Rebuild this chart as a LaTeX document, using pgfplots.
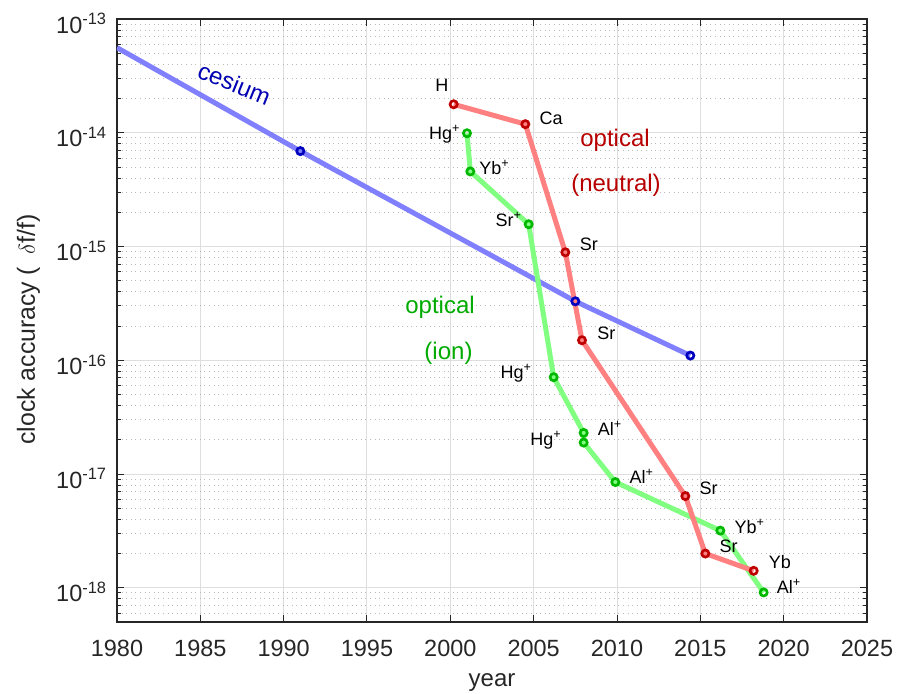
\documentclass[border=0pt]{standalone}
\usepackage{fontspec}
\setmainfont{Liberation Sans}
\usepackage{pgfplots}
\pgfplotsset{compat=1.18}

\definecolor{csline}{rgb}{0.5,0.5,1}
\definecolor{csmark}{rgb}{0,0,0.75}
\definecolor{csText}{rgb}{0,0,0.7}
\definecolor{neuline}{rgb}{1,0.5,0.5}
\definecolor{neumark}{rgb}{0.75,0,0}
\definecolor{neuText}{rgb}{0.72,0,0}
\definecolor{ionline}{rgb}{0.5,1,0.5}
\definecolor{ionmark}{rgb}{0,0.72,0}
\definecolor{ionText}{rgb}{0,0.67,0}
\definecolor{axcol}{rgb}{0.15,0.15,0.15}
\definecolor{majgrid}{RGB}{222,222,222}
\definecolor{mingrid}{RGB}{185,185,185}

% cesium trend (line) and cesium clocks (marks)
\pgfplotstableread{
year acc
1980   5.6e-14
1991   6.9e-15
2007.5 3.3e-16
2014.4 1.1e-16
}\cesiumline
\pgfplotstableread{
year acc
1991   6.9e-15
2007.5 3.3e-16
2014.4 1.1e-16
}\cesium
% neutral-atom optical clocks
\pgfplotstableread{
year acc
2000.2 1.78e-14
2004.5 1.19e-14
2006.9 8.9e-16
2007.9 1.5e-16
2014.1 6.4e-18
2015.3 2.0e-18
2018.2 1.41e-18
}\neutral
% ion optical clocks
\pgfplotstableread{
year acc
2001.0 9.9e-15
2001.2 4.57e-15
2004.7 1.57e-15
2006.2 7.1e-17
2008.0 2.3e-17
2008.0 1.89e-17
2009.9 8.5e-18
2016.2 3.18e-18
2018.8 9.1e-19
}\ion

\newcommand\lblfont{\fontsize{13.5}{16}\selectfont}
\newcommand\notefont{\fontsize{18}{21}\selectfont}

\begin{document}
\begin{tikzpicture}
\begin{axis}[
  scale only axis,
  width=562.5pt, height=452.25pt,
  xmin=1980, xmax=2025,
  ymode=log, ymin=5e-19, ymax=1e-13,
  xtick={1980,1985,...,2025},
  minor x tick num=0,
  ytick={1e-18,1e-17,1e-16,1e-15,1e-14,1e-13},
  yticklabels={10\textsuperscript{-18},10\textsuperscript{-17},10\textsuperscript{-16},10\textsuperscript{-15},10\textsuperscript{-14},10\textsuperscript{-13}},
  minor ytick={5e-19,6e-19,7e-19,8e-19,9e-19,
    2e-18,3e-18,4e-18,5e-18,6e-18,7e-18,8e-18,9e-18,
    2e-17,3e-17,4e-17,5e-17,6e-17,7e-17,8e-17,9e-17,
    2e-16,3e-16,4e-16,5e-16,6e-16,7e-16,8e-16,9e-16,
    2e-15,3e-15,4e-15,5e-15,6e-15,7e-15,8e-15,9e-15,
    2e-14,3e-14,4e-14,5e-14,6e-14,7e-14,8e-14,9e-14},
  /pgf/number format/1000 sep={},
  /pgf/number format/assume math mode=true,
  ticklabel style={font=\fontsize{17.6}{20}\selectfont, text=axcol},
  xticklabel style={anchor=north, inner sep=0pt, yshift=-13pt},
  yticklabel style={anchor=east, inner sep=0pt, xshift=-7.5pt, yshift=-3.3pt},
  tick align=inside,
  major tick length=5.25pt, minor tick length=3pt,
  every tick/.style={axcol, line width=0.75pt},
  axis line style={axcol, line width=0.9pt},
  xmajorgrids, ymajorgrids, yminorgrids,
  major grid style={majgrid, line width=0.75pt},
  minor grid style={mingrid, line width=0.75pt, dash pattern=on 0.75pt off 2.7pt},
  xlabel={year},
  ylabel={clock accuracy (\hspace{0.5em}$\delta$f/f)},
  every axis x label/.style={at={(axis description cs:0.5,0)}, anchor=base, yshift=-48pt, font=\notefont, text=axcol},
  every axis y label/.style={at={(axis description cs:0,0.485)}, xshift=-61.5pt, rotate=90, anchor=base, font=\fontsize{18.6}{22}\selectfont, text=axcol},
]
% trend lines
\addplot[csline, line width=3.75pt, line join=round] table[x=year, y=acc] {\cesiumline};
\addplot[ionline, line width=3.75pt, line join=round] table[x=year, y=acc] {\ion};
\addplot[neuline, line width=3.75pt, line join=round] table[x=year, y=acc] {\neutral};
% individual clocks
\addplot[only marks, mark=o, mark size=2.7pt, mark options={draw=csmark, line width=2pt}] table[x=year, y=acc] {\cesium};
\addplot[only marks, mark=o, mark size=2.7pt, mark options={draw=ionmark, line width=2pt}] table[x=year, y=acc] {\ion};
\addplot[only marks, mark=o, mark size=2.7pt, mark options={draw=neumark, line width=2pt}] table[x=year, y=acc] {\neutral};

% species names, neutral atoms
\begin{scope}[every node/.style={font=\lblfont, inner sep=0pt, text=black}]
\node[anchor=base, xshift=-8.85pt, yshift=9.6pt] at (axis cs:2000.2,1.78e-14) {H};
\node[anchor=base west, xshift=10.5pt, yshift=0pt] at (axis cs:2004.5,1.19e-14) {Ca};
\node[anchor=base west, xshift=10.7pt, yshift=1.6pt] at (axis cs:2006.9,8.9e-16) {Sr};
\node[anchor=base west, xshift=11.25pt, yshift=0.4pt] at (axis cs:2007.9,1.5e-16) {Sr};
\node[anchor=base west, xshift=10.5pt, yshift=1.3pt] at (axis cs:2014.1,6.4e-18) {Sr};
\node[anchor=base west, xshift=10.5pt, yshift=0.75pt] at (axis cs:2015.3,2.0e-18) {Sr};
\node[anchor=base west, xshift=11.25pt, yshift=1.4pt] at (axis cs:2018.2,1.41e-18) {Yb};
% species names, ions
\node[anchor=base east, xshift=-5pt, yshift=-4.9pt] at (axis cs:2001.0,9.9e-15) {Hg\textsuperscript{+}};
\node[anchor=base west, xshift=6.5pt, yshift=-2.4pt] at (axis cs:2001.2,4.57e-15) {Yb\textsuperscript{+}};
\node[anchor=base east, xshift=-5pt, yshift=-1.35pt] at (axis cs:2004.7,1.57e-15) {Sr\textsuperscript{+}};
\node[anchor=base east, xshift=-16.3pt, yshift=-1.1pt] at (axis cs:2006.2,7.1e-17) {Hg\textsuperscript{+}};
\node[anchor=base west, xshift=10.5pt, yshift=-1.95pt] at (axis cs:2008.0,2.3e-17) {Al\textsuperscript{+}};
\node[anchor=base east, xshift=-16.5pt, yshift=-2.4pt] at (axis cs:2008.0,1.89e-17) {Hg\textsuperscript{+}};
\node[anchor=base west, xshift=10.5pt, yshift=-1.35pt] at (axis cs:2009.9,8.5e-18) {Al\textsuperscript{+}};
\node[anchor=base west, xshift=10.5pt, yshift=-1.9pt] at (axis cs:2016.2,3.18e-18) {Yb\textsuperscript{+}};
\node[anchor=base west, xshift=9.75pt, yshift=-0.6pt] at (axis cs:2018.8,9.1e-19) {Al\textsuperscript{+}};
\end{scope}

% group names
\node[font=\notefont, text=csText, rotate=-22, inner sep=0pt] at (axis cs:1987.05,2.71e-14) {cesium};
\node[font=\notefont, text=neuText, inner sep=0pt] at (axis cs:2009.88,8.63e-15) {optical};
\node[font=\notefont, text=neuText, inner sep=0pt] at (axis cs:2009.94,3.47e-15) {(neutral)};
\node[font=\notefont, text=ionText, inner sep=0pt] at (axis cs:1999.38,2.91e-16) {optical};
\node[font=\notefont, text=ionText, inner sep=0pt] at (axis cs:1999.89,1.15e-16) {(ion)};
\end{axis}
\pgfresetboundingbox
\path (current axis.south west) ++(-87.75pt,-54pt) coordinate (bbsw);
\path (current axis.north east) ++(22.5pt,14.25pt) coordinate (bbne);
\useasboundingbox (bbsw) rectangle (bbne);
\end{tikzpicture}
\end{document}
